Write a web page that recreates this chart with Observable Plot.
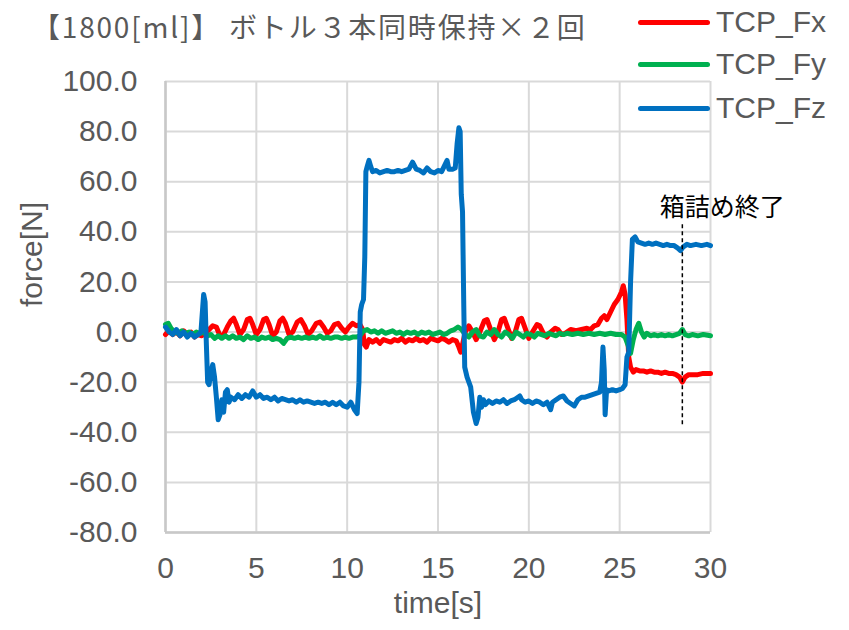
<!DOCTYPE html>
<html><head><meta charset="utf-8">
<script src="https://cdn.jsdelivr.net/npm/d3@7"></script>
<script src="https://cdn.jsdelivr.net/npm/@observablehq/plot@0.6"></script>
<style>
body{margin:0;background:#fff;}
#wrap{position:relative;width:849px;height:630px;font-family:"Liberation Sans",Arial,sans-serif;}
#title{position:absolute;left:32px;top:6px;font-family:"Noto Sans CJK JP";font-size:28px;letter-spacing:1.8px;line-height:40px;color:#595959;white-space:nowrap;}
.leg{position:absolute;left:638px;height:40px;display:flex;align-items:center;white-space:nowrap;}
.leg span.sw{display:inline-block;width:72px;height:5px;border-radius:3px;margin-right:6px;}
.leg span.lb{font-size:30px;color:#595959;font-family:"Liberation Sans",Arial,sans-serif;}
</style></head>
<body><div id="wrap"><div id="chart"></div>
<div id="title">【1800[ml]】 ボトル３本同時保持×２回</div>
</div>
<script>
const seriesNames = ["TCP_Fx","TCP_Fy","TCP_Fz"];
const seriesColors = ["#FF0000","#00B050","#0070C0"];
const xTicks = [0,5,10,15,20,25,30];
const yTicks = [-80,-60,-40,-20,0,20,40,60,80,100];

const fzT = [0,0.2,0.4,0.6,0.8,1.0,1.2,1.4,1.6,1.8,1.95,2.05,2.1,2.18,2.25,2.32,2.4,2.5,2.6,2.7,2.8,2.9,3.0,3.1,3.2,3.3,3.4,3.5,3.6,3.8,4.0,4.2,4.4,4.6,4.8,5.0,5.2,5.4,5.6,5.8,6.0,6.2,6.4,6.6,6.8,7.0,7.2,7.4,7.6,7.8,8.0,8.2,8.4,8.6,8.8,9.0,9.2,9.4,9.6,9.8,10.0,10.2,10.4,10.55,10.65,10.72,10.8,10.9,10.97,11.03,11.1,11.2,11.3,11.4,11.6,11.8,12.0,12.2,12.4,12.6,12.8,13.0,13.2,13.4,13.6,13.8,14.0,14.2,14.4,14.6,14.8,15.0,15.2,15.4,15.5,15.6,15.8,15.95,16.05,16.15,16.22,16.28,16.35,16.42,16.47,16.6,16.8,16.95,17.1,17.2,17.3,17.4,17.5,17.6,17.8,18.0,18.2,18.4,18.6,18.8,19.0,19.2,19.4,19.5,19.6,19.8,20.0,20.2,20.4,20.6,20.8,21.0,21.2,21.3,21.5,21.7,21.9,22.1,22.3,22.5,22.7,22.9,23.1,23.3,23.5,23.7,23.9,24.0,24.08,24.15,24.2,24.28,24.4,24.6,24.8,25.0,25.15,25.3,25.4,25.5,25.6,25.7,25.85,26.0,26.2,26.4,26.6,26.8,27.0,27.2,27.4,27.6,27.8,28.0,28.2,28.35,28.5,28.7,28.9,29.2,29.5,29.8,30.0];
const fzV = [2,0,-1,1,-1.5,0,-2,-0.5,-2,-1,0,10,15,12,-5,-20,-21,-16,-13,-18,-26,-35,-33,-27,-32,-24,-23,-28,-26,-27,-25,-26.5,-25,-26,-23.5,-26,-25,-26.5,-26,-27,-26,-27.5,-26.5,-27,-27.5,-27,-28,-27,-28,-27.5,-28,-28.5,-28,-28.5,-28,-29,-28,-29,-28,-29.5,-30,-28,-31,-32.5,-20,8,11,13,30,64,66,68.5,66,64,64.5,63.5,64,64.5,64,64,64.5,64,64.5,65,67.8,65,64.5,63.5,65.5,64,63.5,64.5,64,67,68.5,65,65,65.5,75,81.5,80,55,48,10,-14,-18,-22,-32,-36.5,-34,-26,-30,-27,-29,-27.5,-28.5,-27.5,-28,-27,-28.5,-27.5,-27,-26,-25.5,-27,-28,-27.5,-28.5,-27.5,-28,-29,-28,-31,-28,-27,-26,-25.5,-27.5,-28.5,-29.5,-27,-26,-26,-25.5,-25,-24.5,-24,-20,-6,-15,-33,-23,-23.5,-23,-23.5,-23,-22.5,-21,-10,-8,20,37,38,36,35.5,35,35.5,35,35.5,35,34.5,35,34.5,34.5,33.5,32.5,34,35,34.5,35,34.5,35,34.5];

const fxT = [0,0.2,0.4,0.6,0.8,1.0,1.2,1.4,1.6,1.8,2.0,2.2,2.4,2.6,2.8,3.0,3.2,3.4,3.6,3.75,3.9,4.1,4.3,4.5,4.65,4.8,5.0,5.2,5.4,5.55,5.7,5.9,6.1,6.3,6.45,6.6,6.8,7.0,7.25,7.45,7.65,7.85,8.05,8.3,8.5,8.7,8.9,9.1,9.3,9.5,9.7,9.9,10.1,10.3,10.5,10.7,10.85,10.95,11.05,11.2,11.4,11.6,11.8,12.0,12.2,12.4,12.6,12.8,13.0,13.2,13.4,13.6,13.8,14.0,14.2,14.4,14.6,14.8,15.0,15.2,15.4,15.6,15.8,16.0,16.15,16.25,16.35,16.5,16.7,16.9,17.1,17.3,17.55,17.7,17.9,18.1,18.3,18.5,18.65,18.85,19.05,19.25,19.45,19.6,19.8,20.0,20.2,20.45,20.6,20.8,21.0,21.2,21.45,21.6,21.8,22.0,22.3,22.6,22.9,23.2,23.4,23.6,23.8,24.0,24.15,24.3,24.5,24.7,24.9,25.1,25.2,25.3,25.4,25.5,25.6,25.75,25.9,26.1,26.3,26.5,26.7,26.9,27.1,27.3,27.5,27.7,27.9,28.1,28.3,28.45,28.6,28.8,29.0,29.3,29.6,30.0];
const fxV = [-1,0.5,-1,0,-1.5,0.5,-1,0,-2,-1,-1.5,-0.5,1,2.5,2,-1.5,-1,2,4.5,5.5,3,-1,1,5,5.5,3,-1,1,5,5.5,3,-1.5,0,4.5,5.5,3.5,-1,0,4,5,2.5,-1,0.5,3.5,4,2,-0.5,0.5,3,3.5,1.5,0,2,3.5,2.5,3,1,-5,-6,-3,-4,-3,-4.5,-3,-3.5,-4,-3,-3.5,-2.5,-4,-3,-3.5,-2.5,-3.5,-3,-4,-2.5,-3,-3.5,-2.5,-3,-4,-3,-3.5,-6,-8,-5,0,2.5,0,-3,0,4.5,5,1,-3,0,5,5.5,1.5,-2.5,0,5,5.5,1.5,-2.5,0,3,2.5,-0.5,-2,0,1.5,1,-1,-0.5,1,0.5,1,1.5,1,2.5,3,5.5,6.5,5,8,11,13,16,18.5,15,5,-10,-14,-16,-15,-15.5,-15.5,-16,-15.5,-16,-16,-16.5,-16,-16.5,-16.5,-17,-18,-20,-18,-17,-17,-17,-16.5,-16.5];

const fyT = [0,0.15,0.3,0.5,0.7,0.9,1.1,1.3,1.5,1.7,1.9,2.1,2.3,2.5,2.7,2.9,3.1,3.3,3.5,3.7,3.9,4.1,4.3,4.5,4.7,4.9,5.1,5.3,5.5,5.7,5.9,6.1,6.3,6.5,6.7,6.9,7.1,7.3,7.5,7.7,7.9,8.1,8.3,8.5,8.7,8.9,9.1,9.3,9.5,9.7,9.9,10.1,10.3,10.5,10.7,10.9,11.1,11.3,11.5,11.7,11.9,12.1,12.3,12.5,12.7,12.9,13.1,13.3,13.5,13.7,13.9,14.1,14.3,14.5,14.7,14.9,15.1,15.3,15.5,15.7,15.9,16.1,16.3,16.5,16.7,16.9,17.1,17.3,17.5,17.7,17.9,18.1,18.3,18.5,18.7,18.9,19.1,19.3,19.5,19.7,19.9,20.1,20.3,20.5,20.7,20.9,21.1,21.3,21.5,21.7,21.9,22.1,22.4,22.7,23.0,23.3,23.6,23.9,24.2,24.5,24.8,25.1,25.3,25.45,25.6,25.75,25.9,26.05,26.2,26.35,26.5,26.7,26.9,27.1,27.3,27.5,27.7,27.9,28.1,28.3,28.45,28.6,28.8,29.0,29.3,29.6,30.0];
const fyV = [3,3.5,1.5,0,-0.5,0.5,-0.5,0,-1,0,-0.5,0,-1.5,-1,-2.5,-1.5,-2.5,-1.5,-2.5,-1.5,-2.5,-2,-3,-1.5,-2.5,-2,-3,-2,-2.5,-2,-3,-2.5,-3,-4.5,-2.5,-2,-2.5,-2,-2.5,-2,-2.5,-2,-2.5,-1.5,-2.5,-2,-2.5,-2,-2,-2.5,-2,-2.5,-2,-2,-1.5,0.5,1,0,0.5,-0.5,0.5,-0.5,0,0.5,-0.5,0,-1,0,-0.5,0,-1,0,-0.5,0,-1,-0.5,0,-1,-0.5,0.5,1,2,1,-1,-2,0,1,-1.5,-2,0,-1,1,-1,-2,0,-1,-2.5,0,-1,-2,-0.5,-1,-2,-0.5,-1,-1.5,-0.5,-1,-1.5,-0.5,-1,-0.5,-1,-0.5,-1,-0.5,-1,-0.5,-1,-0.5,-1,-1,-2,-5,-8.5,-3,1,3.5,0,-2,-0.5,-1.5,-1,-1.5,-1,-1.5,-1,-1.5,-1,-0.5,1,-1,-1.5,-1,-1.5,-1,-1.5];

const annoText = "箱詰め終了";
const annoX = 28.45, annoY1 = -37, annoY2 = 43, annoTextY = 49.5;

const toRows = (ts, vs) => ts.map((t, i) => ({t, v: vs[i]}));
const fx = toRows(fxT, fxV), fy = toRows(fyT, fyV), fz = toRows(fzT, fzV);

const chart = Plot.plot({
  width: 849, height: 630,
  marginLeft: 165, marginRight: 139, marginTop: 81, marginBottom: 98,
  x: {domain: [0, 30]},
  y: {domain: [-80, 100]},
  style: {fontFamily: "'Liberation Sans', Arial, sans-serif", fontSize: "30px", color: "#595959", background: "white", overflow: "visible"},
  marks: [
    Plot.gridX(xTicks, {stroke: "#D9D9D9", strokeOpacity: 1, strokeWidth: 2}),
    Plot.gridY(yTicks, {stroke: "#D9D9D9", strokeOpacity: 1, strokeWidth: 2}),
    Plot.ruleX([0], {stroke: "#C8C8C8", strokeWidth: 2.5}),
    Plot.ruleY([-80], {stroke: "#C8C8C8", strokeWidth: 2.5}),
    Plot.axisX(xTicks, {tickSize: 0, tickPadding: 24, label: null, fill: "#595959", fontSize: 30}),
    Plot.axisY(yTicks, {tickSize: 0, tickPadding: 28, label: null, tickFormat: d => d.toFixed(1), fill: "#595959", fontSize: 30}),
    Plot.text(["time[s]"], {frameAnchor: "bottom", dy: 80, fontSize: 30, fill: "#595959"}),
    Plot.text(["force[N]"], {frameAnchor: "left", dx: -133, rotate: -90, fontSize: 30, fill: "#595959"}),
    Plot.line(fx, {x: "t", y: "v", stroke: seriesColors[0], strokeWidth: 5, strokeLinejoin: "round"}),
    Plot.line(fy, {x: "t", y: "v", stroke: seriesColors[1], strokeWidth: 5, strokeLinejoin: "round"}),
    Plot.line(fz, {x: "t", y: "v", stroke: seriesColors[2], strokeWidth: 5, strokeLinejoin: "round"}),
    Plot.ruleX([annoX], {y1: annoY1, y2: annoY2, stroke: "black", strokeWidth: 1.5, strokeDasharray: "4,3"}),
    Plot.text([annoText], {x: annoX, y: annoTextY, dx: 40, fontSize: 25, fill: "black", fontFamily: "'Noto Sans CJK JP'", letterSpacing: "4px"})
  ]
});
document.getElementById("chart").appendChild(chart);

const wrap = document.getElementById("wrap");
const legTops = [2, 44, 88];
seriesNames.forEach((name, i) => {
  const d = document.createElement("div");
  d.className = "leg";
  d.style.top = legTops[i] + "px";
  d.innerHTML = `<span class="sw" style="background:${seriesColors[i]}"></span><span class="lb">${name}</span>`;
  wrap.appendChild(d);
});
</script>
</body></html>
